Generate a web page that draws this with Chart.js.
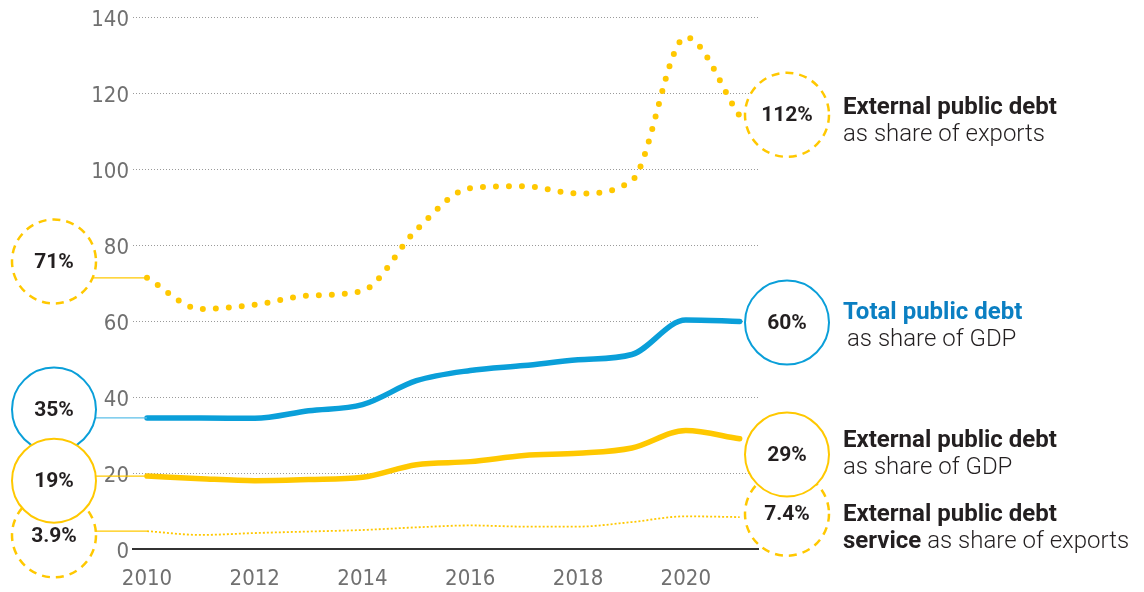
<!DOCTYPE html>
<html lang="en">
<head>
  <meta charset="UTF-8">
  <title>Public debt</title>
  <script src="https://cdn.jsdelivr.net/npm/chart.js"></script>
  <style>
    body { margin: 0; background: #fff; font-family: Roboto, sans-serif; }
    #wrap { position: relative; width: 1144px; height: 592px; }
    .label { position: absolute; left: 843px; font-size: 24px; line-height: 27px; color: #231f20; white-space: nowrap; }
    .label b { font-weight: 700; }
    .label span { font-weight: 300; }
    .label .blue { color: #0b7fc2; }
  </style>
</head>
<body>
<div id="wrap">
  <canvas id="debtChart" width="1144" height="592"></canvas>
  <div class="label" style="top:93px"><b>External public debt</b><br><span>as share of exports</span></div>
  <div class="label" style="top:298px"><b class="blue">Total public debt</b><br><span style="padding-left:4px">as share of GDP</span></div>
  <div class="label" style="top:426px"><b>External public debt</b><br><span>as share of GDP</span></div>
  <div class="label" style="top:500px"><b>External public debt</b><br><b>service</b> <span>as share of exports</span></div>
</div>

<script>
// values, 2010-2021
const years = [2010, 2011, 2012, 2013, 2014, 2015, 2016, 2017, 2018, 2019, 2020, 2021];
const extDebtExports = [71.4, 63.2, 64.3, 66.7, 68.0, 84.0, 95.0, 95.5, 93.6, 97.0, 134.7, 114.0];
const totalDebtGdp   = [34.5, 34.5, 34.4, 36.4, 38.0, 44.3, 47.0, 48.3, 49.8, 51.2, 60.3, 59.9];
const extDebtGdp     = [19.2, 18.5, 18.0, 18.3, 18.9, 22.2, 23.0, 24.6, 25.2, 26.6, 31.2, 29.0];
const debtService    = [4.7, 3.7, 4.2, 4.6, 5.0, 5.7, 6.2, 5.9, 5.9, 7.1, 8.6, 8.4];

const yTicks = [0, 20, 40, 60, 80, 100, 120, 140];
const xTicks = [2010, 2012, 2014, 2016, 2018, 2020];

const YELLOW = '#ffc800';
const BLUE = '#0a9fd9';
const TICK_FONT = { family: "'Liberation Sans Narrow', 'DejaVu Sans Condensed', sans-serif", size: 22 };

// circled end labels: text, y-position (in axis units), side, style
const bubbles = [
  { text: '71%',  at: 75.7,  side: 'left',  color: YELLOW, dashed: true,  link: extDebtExports[0] },
  { text: '35%',  at: 36.7,  side: 'left',  color: BLUE,   dashed: false, link: totalDebtGdp[0], linkColor: '#5cbfe8' },
  { text: '3.9%', at: 3.6,   side: 'left',  color: YELLOW, dashed: true,  link: debtService[0] },
  { text: '19%',  at: 18.0,  side: 'left',  color: YELLOW, dashed: false, link: extDebtGdp[0] },
  { text: '112%', at: 114.3, side: 'right', color: YELLOW, dashed: true },
  { text: '60%',  at: 59.6,  side: 'right', color: BLUE,   dashed: false },
  { text: '7.4%', at: 9.3,   side: 'right', color: YELLOW, dashed: true },
  { text: '29%',  at: 24.9,  side: 'right', color: YELLOW, dashed: false }
];

const toPoints = arr => arr.map((v, i) => ({ x: years[i], y: v }));

const bubblePlugin = {
  id: 'bubbles',
  afterDatasetsDraw(chart) {
    const ctx = chart.ctx;
    const y = chart.scales.y, x = chart.scales.x;
    const r = 42;
    bubbles.forEach(b => {
      const cx = b.side === 'left' ? 54 : chart.chartArea.right + 29;
      const cy = y.getPixelForValue(b.at);
      ctx.save();
      if (b.link !== undefined) {
        const ly = y.getPixelForValue(b.link);
        const dy = Math.min(Math.abs(ly - cy), r);
        ctx.strokeStyle = b.linkColor || b.color;
        ctx.lineWidth = 1.2;
        ctx.beginPath();
        ctx.moveTo(cx + Math.sqrt(r * r - dy * dy), ly);
        ctx.lineTo(x.getPixelForValue(years[0]), ly);
        ctx.stroke();
      }
      ctx.beginPath();
      ctx.arc(cx, cy, r, 0, Math.PI * 2);
      ctx.fillStyle = '#fff';
      ctx.fill();
      ctx.strokeStyle = b.color;
      ctx.lineWidth = b.dashed ? 2.5 : 2;
      ctx.setLineDash(b.dashed ? [8, 6] : []);
      ctx.stroke();
      ctx.setLineDash([]);
      ctx.fillStyle = '#231f20';
      ctx.font = 'bold 21px Roboto';
      ctx.textAlign = 'center';
      ctx.textBaseline = 'middle';
      ctx.fillText(b.text, cx, cy + 1);
      ctx.restore();
    });
  }
};

new Chart(document.getElementById('debtChart'), {
  type: 'line',
  data: {
    datasets: [
      {
        label: 'External public debt as share of exports',
        data: toPoints(extDebtExports),
        borderColor: YELLOW,
        borderWidth: 6,
        borderDash: [0, 13],
        borderCapStyle: 'round'
      },
      {
        label: 'Total public debt as share of GDP',
        data: toPoints(totalDebtGdp),
        borderColor: BLUE,
        borderWidth: 5.5,
        borderCapStyle: 'round'
      },
      {
        label: 'External public debt as share of GDP',
        data: toPoints(extDebtGdp),
        borderColor: YELLOW,
        borderWidth: 5.5,
        borderCapStyle: 'round'
      },
      {
        label: 'External public debt service as share of exports',
        data: toPoints(debtService),
        borderColor: YELLOW,
        borderWidth: 1.8,
        borderDash: [2, 2]
      }
    ]
  },
  options: {
    responsive: false,
    animation: false,
    events: [],
    elements: { point: { radius: 0 }, line: { cubicInterpolationMode: 'monotone' } },
    layout: { padding: { top: 17, right: 386, bottom: 0, left: 0 } },
    plugins: { legend: { display: false }, tooltip: { enabled: false } },
    scales: {
      x: {
        type: 'linear',
        min: 2009.74,
        max: 2021.34,
        afterFit: s => { s.height = 43; },
        afterBuildTicks: s => { s.ticks = xTicks.map(v => ({ value: v })); },
        grid: { display: false, drawTicks: false },
        border: { display: true, color: '#333', width: 2 },
        ticks: {
          padding: 17,
          maxRotation: 0,
          color: '#707070',
          font: TICK_FONT,
          callback: v => String(v)
        }
      },
      y: {
        min: 0,
        max: 140,
        afterFit: s => { s.width = 133; },
        afterBuildTicks: s => { s.ticks = yTicks.map(v => ({ value: v })); },
        grid: { color: '#9a9a9a', lineWidth: 1, drawTicks: false },
        border: { display: false, dash: [1, 2] },
        ticks: {
          padding: 4,
          labelOffset: 3,
          color: '#707070',
          font: TICK_FONT
        }
      }
    }
  },
  plugins: [bubblePlugin]
});
</script>
</body>
</html>
